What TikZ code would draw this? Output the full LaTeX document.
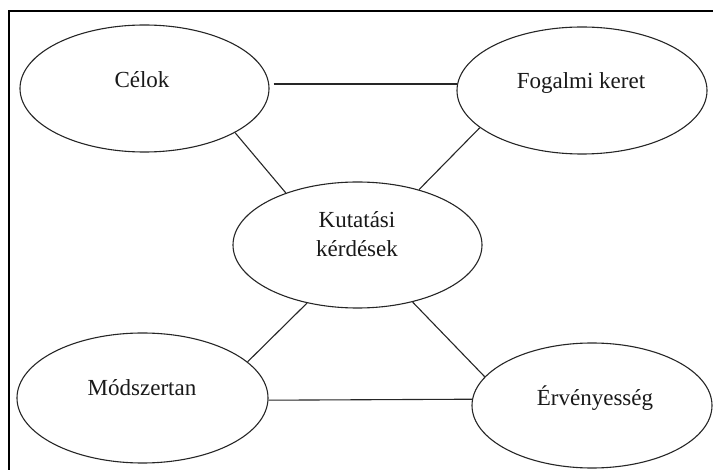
\documentclass[tikz,border=0pt]{standalone}
\usepackage{fontspec}
\setmainfont{Liberation Serif}
\usetikzlibrary{shapes.geometric}
\begin{document}
\begin{tikzpicture}[x=1pt,y=-1pt,
  ell/.style={draw=black!85,line width=1.1pt,ellipse,inner sep=0pt,fill=white},
  lbl/.style={anchor=base,font=\fontsize{23}{28}\selectfont,text=black!90,align=center,inner sep=0pt},
  conn/.style={draw=black!85,line width=1.1pt}]
\useasboundingbox (0,0) rectangle (713,470);
\clip (0,0) rectangle (713,470);
\draw[line width=1.5pt] (9,11) rectangle (730,490);
% ellipses
\node[ell,minimum width=249pt,minimum height=127pt] (celok) at (144.5,88.5) {};
\node[ell,minimum width=250pt,minimum height=127pt] (fog) at (582,90.5) {};
\node[ell,minimum width=249pt,minimum height=126pt] (kut) at (357.5,245) {};
\node[ell,minimum width=251pt,minimum height=130pt] (mod) at (142.5,398) {};
\node[ell,minimum width=240pt,minimum height=125pt] (erv) at (592,405.5) {};
% labels
\node[lbl] (tcelok) at (142,87.3) {Célok};
\node[lbl] (tfog) at (581,88.3) {Fogalmi keret};
\node[lbl] (tkut1) at (357,228) {Kutatási};
\node[lbl] (tkut2) at (357,257) {kérdések};
\node[lbl] (tmod) at (142,396) {Módszertan};
\node[lbl] (terv) at (595,406) {Érvényesség};
% connectors
\draw[conn] ([xshift=4pt]celok.east |- fog.177) -- (fog.177);
\draw[conn] (celok.-26.2) -- (kut.144.6);
\draw[conn] (fog.-160.3) -- (kut.42.9);
\draw[conn] (kut.-131.3) -- (mod.19);
\draw[conn] (kut.-46.3) -- (erv.165.8);
\draw[conn] (mod.-1.8) -- (erv.177.4);
\end{tikzpicture}
\end{document}
